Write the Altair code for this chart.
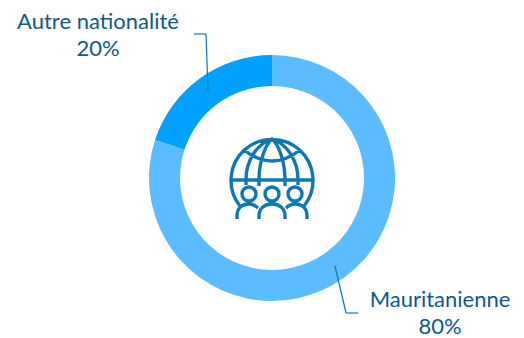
import altair as alt
import pandas as pd

categories = ["Mauritanienne", "Autre nationalité"]
shares = [80, 20]
slice_colors = ["#5BBDFF", "#00A0FF"]

TEXT = "#0F5A8C"
LINE = "#0F75B0"
FONT = "Lato"
W, H = 524, 338
CX, CY = 272, 178

# Globe above three people, in pixels around the icon's centre
ICON = (
    "M-32,26 A41,41 0 1 1 32,26 "
    "M-41,0 L41,0 "
    "M-28,-30 Q0,-8 28,-30 "
    "M-13,6 L-13,0 C-13,-20 -6,-36 0,-41 C6,-36 13,-20 13,0 L13,6 "
    "M-26,5 L-26,0 C-26,-20 -15,-36 0,-41 C15,-36 26,-20 26,0 L26,5 "
    "M-16,14 A7,7 0 1 1 -30,14 A7,7 0 1 1 -16,14 "
    "M7,14 A7,7 0 1 1 -7,14 A7,7 0 1 1 7,14 "
    "M30,14 A7,7 0 1 1 16,14 A7,7 0 1 1 30,14 "
    "M-13,39 L-13,36 C-13,28 -7,24 0,24 C7,24 13,28 13,36 L13,39 "
    "M-35,39 L-35,36 C-35,28 -30,24 -23,24 C-19,24 -16,26 -14,28 "
    "M35,39 L35,36 C35,28 30,24 23,24 C19,24 16,26 14,28"
)

df = pd.DataFrame({"categorie": categories, "part": shares})
df["ordre"] = range(len(df))
df["etiquette"] = df["categorie"] + "\n" + df["part"].astype(str) + "%"

ring = (
    alt.Chart(df)
    .mark_arc(radius=123, radius2=92, stroke=None)
    .encode(
        theta=alt.Theta("part:Q", stack=True),
        order=alt.Order("ordre:Q"),
        color=alt.Color(
            "categorie:N",
            scale=alt.Scale(domain=categories, range=slice_colors),
            legend=None,
        ),
        x=alt.value(CX),
        y=alt.value(CY),
    )
)


def leader(x, y, x2, y2):
    return alt.Chart(df.head(1)).mark_rule(color=LINE, strokeWidth=1.2).encode(
        x=alt.value(x), y=alt.value(y), x2=alt.value(x2), y2=alt.value(y2)
    )


def label(cat, x, y):
    return (
        alt.Chart(df[df["categorie"] == cat])
        .mark_text(
            font=FONT, fontSize=22, color=TEXT, align="center",
            baseline="top", lineBreak="\n", lineHeight=27,
        )
        .encode(text="etiquette:N", x=alt.value(x), y=alt.value(y))
    )


icon = (
    alt.Chart(df.head(1))
    .mark_point(shape=ICON, size=4, filled=False, stroke="#0F78B4", strokeWidth=3.4, opacity=1)
    .encode(x=alt.value(272), y=alt.value(180))
)

chart = (
    alt.layer(
        ring,
        leader(194, 34, 206, 34),
        leader(206, 34, 208, 91),
        leader(335, 266, 346, 313),
        leader(346, 313, 358, 313),
        icon,
        label("Autre nationalité", 98, 12),
        label("Mauritanienne", 440, 290),
    )
    .properties(width=W, height=H, padding=0, autosize=alt.AutoSizeParams(type="none"))
    .configure_view(stroke=None)
)

chart.save("out.html", embed_options={"renderer": "svg", "actions": False})
